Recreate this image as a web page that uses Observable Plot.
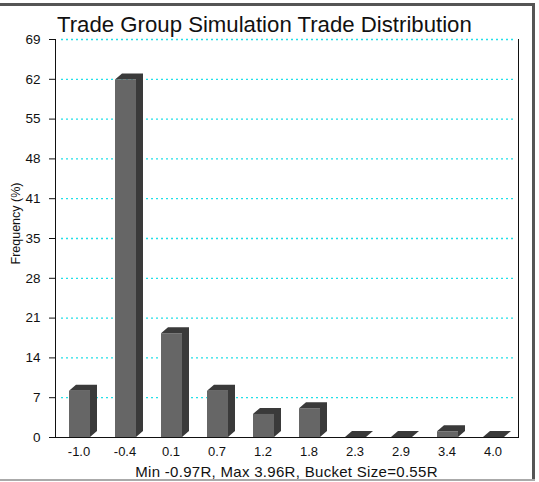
<!DOCTYPE html>
<html><head><meta charset="utf-8">
<script src="https://cdn.jsdelivr.net/npm/d3@7"></script>
<script src="https://cdn.jsdelivr.net/npm/@observablehq/plot@0.6"></script>
<style>
body{margin:0;background:#fff;}
#wrap{position:relative;width:539px;height:482px;overflow:hidden;font-family:"Liberation Sans",Arial,sans-serif;background:#fff;}
#chart{position:absolute;left:0;top:0;}
#title{position:absolute;left:57px;top:14px;font-size:22.2px;line-height:22px;white-space:nowrap;color:#111;}
#caption{position:absolute;left:0;width:573px;text-align:center;top:464px;font-size:15px;line-height:15px;letter-spacing:0.3px;white-space:nowrap;color:#111;}
#bt{position:absolute;left:0;top:3px;width:535px;height:3px;background:#555;}
#br{position:absolute;left:532px;top:3px;width:3px;height:478px;background:#555;}
#bb{position:absolute;left:0;top:479px;width:535px;height:2px;background:#aaa;}
</style></head><body>
<div id="wrap">
<div id="chart"></div>
<div id="title">Trade Group Simulation Trade Distribution</div>
<div id="caption">Min -0.97R, Max 3.96R, Bucket Size=0.55R</div>
<div id="bt"></div><div id="br"></div><div id="bb"></div>
</div>
<script>
const buckets = ["-1.0","-0.4","0.1","0.7","1.2","1.8","2.3","2.9","3.4","4.0"];
const freq = [8, 62, 18, 8, 4, 5, 0, 0, 1, 0];
const yTicks = [0, 6.9, 13.8, 20.7, 27.6, 34.5, 41.4, 48.3, 55.2, 62.1, 69];
const yLabel = "Frequency (%)";

const data = buckets.map((b, i) => ({bucket: b, freq: freq[i]}));
const DX = 7, DY = 6;

function bar3d(index, scales) {
  const x = scales.x, y = scales.y;
  const bw = x.bandwidth ? x.bandwidth() : 20.8;
  const g = d3.create("svg:g");
  for (const d of data) {
    const x0 = x(d.bucket), x1 = x0 + bw, yt = y(d.freq), yb = y(0);
    g.append("path")
      .attr("d", `M${x0},${yt}L${x0+DX},${yt-DY}L${x1+DX},${yt-DY}L${x1+DX},${yb-DY}L${x1},${yb}L${x1},${yt}Z`)
      .attr("fill", "#3a3a3a");
  }
  return g.node();
}

const plot = Plot.plot({
  width: 539,
  height: 482,
  marginTop: 39,
  marginLeft: 55,
  marginRight: 21,
  marginBottom: 45,
  style: {fontFamily: "'Liberation Sans', Arial, sans-serif", fontSize: "13px", color: "#111", background: "transparent"},
  x: {domain: buckets, paddingInner: 0.55, paddingOuter: 0.275},
  y: {domain: [0, 69]},
  marks: [
    Plot.ruleY(yTicks.slice(1), {stroke: "#22e0e8", strokeWidth: 1.3, strokeDasharray: "2,3", insetLeft: 6, insetRight: 3}),
    bar3d,
    Plot.barY(data, {x: "bucket", y: "freq", fill: "#666666"}),
    Plot.axisY({ticks: yTicks, tickFormat: d => Math.round(d), tickSize: 6, tickPadding: 9, label: null, fontSize: 13.5}),
    Plot.axisX({tickSize: 0, tickPadding: 9, label: null, fontSize: 13, dx: -1}),
    Plot.ruleY([0], {stroke: "#111"}),
    Plot.frame({anchor: "left", stroke: "#111"}),
    Plot.frame({anchor: "right", stroke: "#111"}),
    Plot.text([yLabel], {frameAnchor: "left", textAnchor: "middle", rotate: -90, dx: -40, dy: -15, fontSize: 12.5})
  ]
});
document.getElementById("chart").appendChild(plot);
</script>
</body></html>
